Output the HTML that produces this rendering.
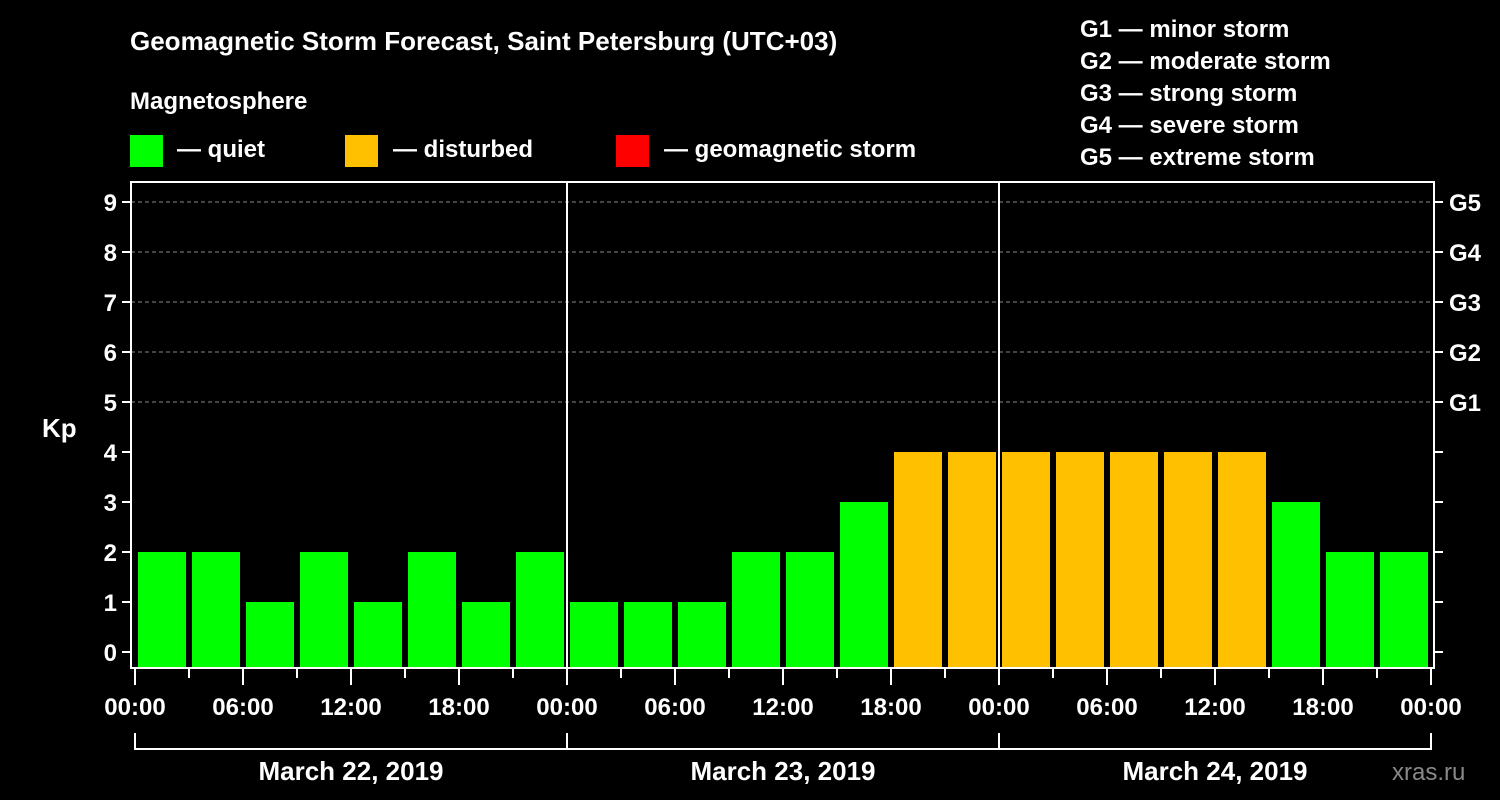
<!DOCTYPE html>
<html><head><meta charset="utf-8"><style>
html,body{margin:0;padding:0;background:#000;}
svg{display:block;font-family:"Liberation Sans",sans-serif;font-weight:bold;}
</style></head><body>
<svg id="chart" width="1500" height="800" viewBox="0 0 1500 800">
<rect width="1500" height="800" fill="#000"/>
<text x="130" y="50" fill="#fff" font-size="26">Geomagnetic Storm Forecast, Saint Petersburg (UTC+03)</text>
<text x="130" y="109" fill="#fff" font-size="24">Magnetosphere</text>
<g><rect x="130" y="135" width="33" height="32" fill="#00ff00"/><text x="177" y="157" fill="#fff" font-size="24">— quiet</text></g>
<g><rect x="345" y="135" width="33" height="32" fill="#ffc000"/><text x="393" y="157" fill="#fff" font-size="24">— disturbed</text></g>
<g><rect x="616" y="135" width="33" height="32" fill="#ff0000"/><text x="664" y="157" fill="#fff" font-size="24">— geomagnetic storm</text></g>
<g fill="#fff" font-size="24">
<text x="1080" y="37">G1 — minor storm</text>
<text x="1080" y="69">G2 — moderate storm</text>
<text x="1080" y="101">G3 — strong storm</text>
<text x="1080" y="133">G4 — severe storm</text>
<text x="1080" y="165">G5 — extreme storm</text>
</g>
<g id="grid"></g>
<g id="bars"></g>
<g id="axes"></g>
<text x="42" y="437" fill="#fff" font-size="26">Kp</text>
<text x="1392" y="780" fill="#888" font-size="24" font-weight="normal">xras.ru</text>
</svg>
<script>
const kpValues = [2,2,1,2,1,2,1,2, 1,1,1,2,2,3,4,4, 4,4,4,4,4,3,2,2];
const dayLabels = ["March 22, 2019","March 23, 2019","March 24, 2019"];
const timeLabels = ["00:00","06:00","12:00","18:00"];
const yTicks = [0,1,2,3,4,5,6,7,8,9];
const gLabels = ["G1","G2","G3","G4","G5"];

const NS="http://www.w3.org/2000/svg";
const X0=135, SLOT=54, Y0=652, UNIT=50, L=131, R=1434, T=182, B=667;
const xs = i => X0 + i*SLOT;
const ys = v => Y0 - v*UNIT;
function mk(tag, attrs, parent){const e=document.createElementNS(NS,tag);for(const k in attrs)e.setAttribute(k,attrs[k]);parent.appendChild(e);return e;}
const grid=document.getElementById('grid'), bars=document.getElementById('bars'), axes=document.getElementById('axes');

yTicks.forEach(v=>{
  if(v>=5){
    const g=mk('line',{x1:L,x2:R,y1:ys(v),y2:ys(v),stroke:'#888','stroke-width':1,'stroke-dasharray':'4,3'},grid);
    
    
  }
  const t=mk('line',{x1:L-9,x2:L,y1:ys(v),y2:ys(v),stroke:'#fff','stroke-width':2},axes);
  
  
  const t2=mk('line',{x1:R,x2:R+9,y1:ys(v),y2:ys(v),stroke:'#fff','stroke-width':2},axes);
  
  
  const lb=mk('text',{x:L-14,y:ys(v)+9,fill:'#fff','font-size':24,'text-anchor':'end'},axes);
  lb.textContent=v;
  
  
});
gLabels.forEach((g,i)=>{
  const lb=mk('text',{x:1449,y:ys(5+i)+9,fill:'#fff','font-size':24},axes);
  lb.textContent=g;
  
  
});

kpValues.forEach((v,i)=>{
  const col = v>=5?'#ff0000':(v>=4?'#ffc000':'#00ff00');
  const b=mk('rect',{x:xs(i)+3,y:ys(v),width:48,height:B-ys(v),fill:col},bars);
  
  
});

// frame
const fr=mk('rect',{x:L,y:T,width:R-L,height:B-T+1,fill:'none',stroke:'#fff','stroke-width':2},axes);



for(let i=0;i<=kpValues.length;i++){
  const major=i%2===0;
  const tk=mk('line',{x1:xs(i),x2:xs(i),y1:B+1,y2:B+(major?18:11),stroke:'#fff','stroke-width':2},axes);
  
  
  if(major){
    const lb=mk('text',{x:xs(i),y:715,fill:'#fff','font-size':24,'text-anchor':'middle'},axes);
    lb.textContent=timeLabels[(i/2)%4];
    
    
  }
}
dayLabels.forEach((d,k)=>{
  const a=xs(k*8), b=xs(k*8+8);
  if(k>0){
    const sep=mk('line',{x1:a,x2:a,y1:T,y2:B,stroke:'#fff','stroke-width':2},axes);
    
    
  }
  const br=mk('path',{d:`M${a},733 V749 H${b} V733`,fill:'none',stroke:'#fff','stroke-width':2},axes);
  
  
  const lb=mk('text',{x:(a+b)/2,y:780,fill:'#fff','font-size':26,'text-anchor':'middle'},axes);
  lb.textContent=d;
  
  
});
</script>
</body></html>
